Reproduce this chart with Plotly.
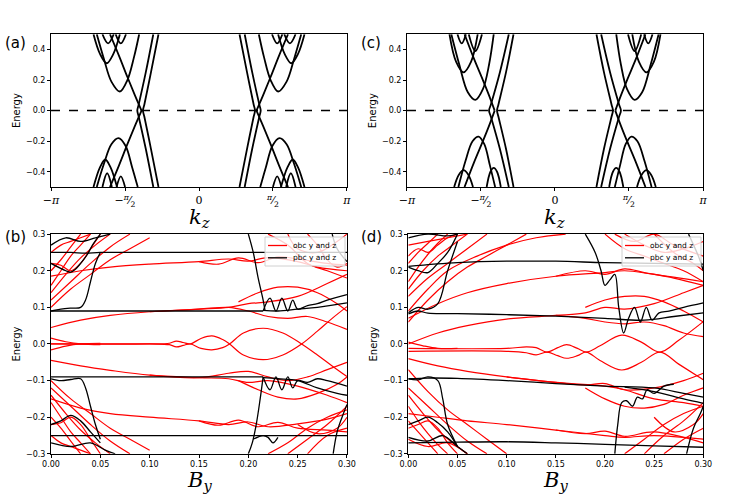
import numpy as np
import plotly.graph_objects as go
from plotly.subplots import make_subplots

PI = np.pi

# ---------------- top panels: bands vs k_z (left Weyl group, right group is its mirror)
# each entry: (kz list, energy list)
a_left = [
    ([-0.86, -1.02, -1.16, -1.19, -1.16, -1.02, -0.86], [0.5, 0.25, 0.04, 0.0, -0.04, -0.25, -0.5]),
    ([-0.97, -1.13, -1.28, -1.31, -1.28, -1.13, -0.97], [0.5, 0.25, 0.04, 0.0, -0.04, -0.25, -0.5]),
    ([-1.22, -1.36, -1.52, -1.70, -1.89], [0.0, 0.10, 0.22, 0.36, 0.5]),
    ([-1.22, -1.36, -1.52, -1.70, -1.89], [0.0, -0.10, -0.22, -0.36, -0.5]),
    ([-2.17, -2.02, -1.86, -1.68, -1.52, -1.38, -1.27], [0.5, 0.34, 0.19, 0.125, 0.2, 0.35, 0.5]),
    ([-2.24, -2.10, -1.96, -1.82, -1.68], [0.5, 0.37, 0.31, 0.37, 0.5]),
    ([-2.05, -1.93, -1.81], [0.5, 0.44, 0.5]),
    ([-1.77, -1.66, -1.55], [0.5, 0.44, 0.5]),
    ([-2.17, -2.02, -1.86, -1.71, -1.56, -1.42, -1.30], [-0.5, -0.35, -0.22, -0.18, -0.23, -0.37, -0.5]),
    ([-2.24, -2.10, -1.99, -1.88, -1.74], [-0.5, -0.37, -0.32, -0.37, -0.5]),
    ([-2.05, -1.95, -1.85], [-0.5, -0.41, -0.5]),
    ([-1.75, -1.66, -1.57], [-0.5, -0.43, -0.5]),
]

c_left = [
    ([-0.88, -1.04, -1.20, -1.23, -1.20, -1.04, -0.88], [0.5, 0.25, 0.04, 0.0, -0.04, -0.25, -0.5]),
    ([-0.98, -1.17, -1.36, -1.40, -1.36, -1.17, -0.98], [0.5, 0.25, 0.04, 0.0, -0.04, -0.25, -0.5]),
    ([-1.28, -1.40, -1.53, -1.72, -1.92], [0.0, 0.10, 0.20, 0.34, 0.5]),
    ([-1.28, -1.40, -1.53, -1.72, -1.92], [0.0, -0.10, -0.20, -0.34, -0.5]),
    ([-2.20, -2.03, -1.85, -1.69, -1.53, -1.40, -1.30], [0.5, 0.30, 0.12, 0.07, 0.14, 0.30, 0.5]),
    ([-2.24, -2.10, -1.94, -1.78, -1.64], [0.5, 0.32, 0.25, 0.32, 0.5]),
    ([-1.83, -1.69, -1.55], [0.5, 0.39, 0.5]),
    ([-2.07, -1.98, -1.89], [0.5, 0.44, 0.5]),
    ([-2.05, -1.90, -1.75, -1.62, -1.50, -1.38, -1.27], [-0.5, -0.33, -0.20, -0.17, -0.22, -0.36, -0.5]),
    ([-2.14, -2.04, -1.94, -1.84, -1.74], [-0.5, -0.42, -0.39, -0.42, -0.5]),
    ([-1.45, -1.37, -1.30, -1.23, -1.15], [-0.5, -0.40, -0.375, -0.40, -0.5]),
]

kz_ticks = [-PI, -PI / 2, 0, PI / 2, PI]
kz_ticktext = ["−<i>π</i>", "−<sup><i>π</i></sup>⁄<sub>2</sub>", "0", "<sup><i>π</i></sup>⁄<sub>2</sub>", "<i>π</i>"]

# ---------------- bottom panels: energy vs B_y  (By list, energy list)
b_red = [
    # zero-energy pair
    ([0, 0.1, 0.12, 0.127, 0.134, 0.141, 0.152, 0.163, 0.174, 0.181, 0.195, 0.215, 0.235, 0.254, 0.27, 0.285, 0.3],
     [0, 0, 0.002, 0.008, 0.004, 0, 0.015, 0.022, 0.012, 0, -0.03, -0.043, -0.03, 0, 0.035, 0.07, 0.102]),
    ([0, 0.1, 0.12, 0.127, 0.134, 0.141, 0.152, 0.163, 0.174, 0.181, 0.195, 0.215, 0.235, 0.254, 0.27, 0.285, 0.3],
     [0, 0, -0.002, -0.008, -0.004, 0, -0.012, -0.016, -0.01, 0, 0.03, 0.043, 0.03, 0, -0.03, -0.06, -0.089]),
    ([0, 0.015, 0.03, 0.05], [0.016, 0.006, 0.0, -0.002]),
    ([0, 0.015, 0.03, 0.05], [-0.016, -0.006, 0.0, 0.002]),
    # +0.09 band
    ([0, 0.03, 0.06, 0.1, 0.15, 0.18, 0.2, 0.22, 0.25, 0.28, 0.3],
     [0.045, 0.065, 0.078, 0.088, 0.095, 0.1, 0.11, 0.115, 0.13, 0.165, 0.19]),
    ([0.1, 0.15, 0.18, 0.2, 0.22, 0.24, 0.26, 0.28, 0.3],
     [0.088, 0.095, 0.1, 0.09, 0.075, 0.07, 0.075, 0.06, 0.04]),
    # +0.22 band
    ([0, 0.03, 0.06, 0.1, 0.15, 0.18, 0.2, 0.22, 0.25, 0.27, 0.3],
     [0.185, 0.2, 0.21, 0.218, 0.225, 0.232, 0.226, 0.236, 0.225, 0.21, 0.2]),
    ([0.15, 0.17, 0.19, 0.21, 0.23, 0.25, 0.28, 0.3],
     [0.225, 0.218, 0.235, 0.222, 0.238, 0.232, 0.22, 0.215]),
    # -0.09 band
    ([0, 0.03, 0.06, 0.1, 0.15, 0.18, 0.2, 0.22, 0.25, 0.28, 0.3],
     [-0.045, -0.06, -0.072, -0.085, -0.092, -0.095, -0.105, -0.1, -0.115, -0.14, -0.16]),
    ([0.1, 0.15, 0.18, 0.2, 0.22, 0.24, 0.26, 0.28, 0.3],
     [-0.085, -0.092, -0.08, -0.075, -0.09, -0.1, -0.09, -0.07, -0.05]),
    # -0.21 band
    ([0, 0.03, 0.06, 0.1, 0.15, 0.18, 0.2, 0.22, 0.25, 0.28, 0.3],
     [-0.15, -0.175, -0.19, -0.2, -0.21, -0.22, -0.213, -0.226, -0.218, -0.205, -0.19]),
    ([0.15, 0.17, 0.19, 0.21, 0.23, 0.25, 0.28, 0.3],
     [-0.21, -0.222, -0.208, -0.226, -0.214, -0.23, -0.235, -0.24]),
    # arches on the right
    ([0.19, 0.21, 0.23, 0.25, 0.27, 0.29, 0.3], [0.115, 0.14, 0.155, 0.155, 0.14, 0.11, 0.09]),
    ([0.19, 0.21, 0.23, 0.25, 0.27, 0.29, 0.3], [-0.1, -0.125, -0.145, -0.15, -0.135, -0.11, -0.09]),
    # upper-left bundle
    ([0, 0.02, 0.04, 0.06, 0.08], [0.12, 0.17, 0.22, 0.265, 0.3]),
    ([0, 0.015, 0.03, 0.045, 0.06], [0.14, 0.19, 0.235, 0.27, 0.3]),
    ([0, 0.01, 0.02, 0.03, 0.04], [0.16, 0.2, 0.24, 0.27, 0.3]),
    ([0, 0.01, 0.02, 0.03], [0.2, 0.23, 0.265, 0.3]),
    ([0, 0.02, 0.04, 0.06, 0.08, 0.1], [0.1, 0.15, 0.19, 0.23, 0.26, 0.29]),
    ([0, 0.01, 0.02, 0.03, 0.04, 0.05], [0.22, 0.215, 0.2, 0.22, 0.26, 0.3]),
    ([0, 0.01, 0.02, 0.03, 0.04], [0.25, 0.27, 0.28, 0.29, 0.3]),
    # lower-left bundle
    ([0, 0.02, 0.04, 0.06, 0.08], [-0.12, -0.17, -0.22, -0.265, -0.3]),
    ([0, 0.015, 0.03, 0.045, 0.06], [-0.14, -0.19, -0.235, -0.27, -0.3]),
    ([0, 0.01, 0.02, 0.03, 0.04], [-0.16, -0.2, -0.24, -0.27, -0.3]),
    ([0, 0.01, 0.02, 0.03], [-0.2, -0.23, -0.265, -0.3]),
    ([0, 0.02, 0.04, 0.06, 0.08, 0.1], [-0.1, -0.15, -0.19, -0.23, -0.26, -0.29]),
    ([0, 0.01, 0.02, 0.03, 0.04, 0.05], [-0.22, -0.215, -0.2, -0.22, -0.26, -0.3]),
    ([0, 0.01, 0.02, 0.03, 0.04], [-0.25, -0.27, -0.28, -0.29, -0.3]),
    # right bundles
    ([0.22, 0.24, 0.26, 0.28, 0.3], [0.3, 0.27, 0.22, 0.2, 0.18]),
    ([0.24, 0.25, 0.27, 0.29, 0.3], [0.3, 0.26, 0.25, 0.28, 0.3]),
    ([0.26, 0.27, 0.28, 0.29, 0.3], [0.3, 0.27, 0.23, 0.21, 0.22]),
    ([0.22, 0.24, 0.26, 0.28, 0.3], [-0.3, -0.27, -0.23, -0.2, -0.18]),
    ([0.24, 0.26, 0.28, 0.3], [-0.3, -0.26, -0.22, -0.17]),
    ([0.25, 0.27, 0.29, 0.3], [-0.22, -0.245, -0.23, -0.2]),
    ([0.26, 0.28, 0.3], [-0.3, -0.25, -0.23]),
]

b_black = [
    ([0, 0.02, 0.035, 0.05, 0.1, 0.2, 0.3], [0.25, 0.25, 0.248, 0.25, 0.25, 0.25, 0.25]),
    ([0, 0.015, 0.02, 0.025, 0.03, 0.037, 0.042, 0.05], [0.22, 0.2, 0.196, 0.205, 0.22, 0.245, 0.27, 0.3]),
    ([0, 0.01, 0.02, 0.03, 0.035, 0.04, 0.045, 0.05], [0.09, 0.095, 0.098, 0.1, 0.12, 0.17, 0.22, 0.25]),
    ([0, 0.015, 0.03, 0.045, 0.06], [0.27, 0.29, 0.28, 0.29, 0.3]),
    ([0, 0.05, 0.1, 0.15, 0.2, 0.215], [0.09, 0.09, 0.09, 0.09, 0.09, 0.09]),
    ([0.215, 0.222, 0.228, 0.234, 0.24, 0.245, 0.25, 0.26, 0.27, 0.28, 0.3],
     [0.09, 0.125, 0.09, 0.125, 0.09, 0.12, 0.095, 0.105, 0.11, 0.12, 0.135]),
    ([0.215, 0.23, 0.25, 0.27, 0.3], [0.092, 0.09, 0.095, 0.1, 0.112]),
    ([0.2, 0.205, 0.21, 0.215, 0.217], [0.3, 0.25, 0.18, 0.12, 0.09]),
    ([0.285, 0.29, 0.3], [0.3, 0.26, 0.225]),
    ([0, 0.05, 0.1, 0.15, 0.2, 0.215], [-0.09, -0.09, -0.09, -0.09, -0.09, -0.09]),
    ([0, 0.01, 0.02, 0.03, 0.035, 0.04, 0.045, 0.05], [-0.095, -0.1, -0.097, -0.095, -0.12, -0.17, -0.22, -0.26]),
    ([0.215, 0.222, 0.228, 0.234, 0.24, 0.245, 0.25, 0.26, 0.27, 0.28, 0.3],
     [-0.09, -0.125, -0.09, -0.125, -0.09, -0.12, -0.1, -0.105, -0.095, -0.1, -0.115]),
    ([0.215, 0.23, 0.25, 0.27, 0.29, 0.3], [-0.092, -0.095, -0.1, -0.12, -0.135, -0.14]),
    ([0.215, 0.212, 0.208, 0.204, 0.2], [-0.09, -0.15, -0.22, -0.27, -0.3]),
    ([0, 0.05, 0.1, 0.2, 0.3], [-0.25, -0.25, -0.25, -0.25, -0.25]),
    ([0, 0.01, 0.02, 0.03, 0.04, 0.05], [-0.22, -0.21, -0.195, -0.21, -0.24, -0.27]),
    ([0, 0.02, 0.04, 0.055, 0.065], [-0.27, -0.28, -0.27, -0.29, -0.3]),
    ([0.205, 0.215, 0.22, 0.225, 0.23], [-0.26, -0.25, -0.255, -0.27, -0.255]),
    ([0.286, 0.29, 0.295, 0.3], [-0.3, -0.24, -0.2, -0.165]),
]

d_red = [
    # zero-energy pair
    ([0, 0.1, 0.12, 0.13, 0.141, 0.152, 0.161, 0.172, 0.181, 0.195, 0.217, 0.237, 0.256, 0.275, 0.3],
     [-0.012, -0.012, -0.008, -0.01, -0.022, -0.01, -0.002, -0.012, -0.022, -0.005, 0.024, 0.005, -0.022, 0.01, 0.061]),
    ([0, 0.1, 0.12, 0.13, 0.141, 0.152, 0.161, 0.172, 0.181, 0.195, 0.217, 0.237, 0.256, 0.275, 0.3],
     [-0.02, -0.02, -0.024, -0.03, -0.022, -0.032, -0.039, -0.032, -0.022, -0.045, -0.071, -0.05, -0.022, -0.055, -0.098]),
    ([0, 0.015, 0.03, 0.05], [0.005, -0.005, -0.012, -0.012]),
    # +0.08 band
    ([0, 0.03, 0.06, 0.1, 0.15, 0.18, 0.2, 0.22, 0.25, 0.28, 0.3],
     [0.0, 0.03, 0.05, 0.068, 0.078, 0.085, 0.1, 0.095, 0.11, 0.14, 0.16]),
    ([0.15, 0.18, 0.2, 0.22, 0.24, 0.26, 0.28, 0.3], [0.078, 0.07, 0.06, 0.055, 0.06, 0.05, 0.03, 0.02]),
    # +0.19 band
    ([0, 0.03, 0.06, 0.1, 0.15, 0.2, 0.22, 0.25, 0.3], [0.07, 0.11, 0.14, 0.165, 0.185, 0.195, 0.2, 0.19, 0.17]),
    ([0.15, 0.18, 0.2, 0.22, 0.24, 0.27, 0.3], [0.185, 0.2, 0.19, 0.205, 0.195, 0.18, 0.16]),
    ([0.18, 0.2, 0.22, 0.24, 0.26, 0.28, 0.3], [0.1, 0.12, 0.13, 0.13, 0.115, 0.09, 0.06]),
    # -0.1 band
    ([0, 0.03, 0.06, 0.1, 0.15, 0.2, 0.22, 0.25, 0.28, 0.3],
     [-0.04, -0.06, -0.075, -0.09, -0.105, -0.115, -0.125, -0.15, -0.16, -0.17]),
    ([0.1, 0.15, 0.18, 0.2, 0.22, 0.25, 0.28, 0.3], [-0.09, -0.105, -0.112, -0.108, -0.125, -0.12, -0.1, -0.08]),
    ([0.18, 0.2, 0.22, 0.24, 0.26, 0.28, 0.3], [-0.12, -0.15, -0.17, -0.175, -0.165, -0.14, -0.12]),
    # -0.24 band
    ([0, 0.03, 0.06, 0.1, 0.15, 0.2, 0.22, 0.25, 0.3], [-0.19, -0.2, -0.21, -0.22, -0.235, -0.25, -0.255, -0.25, -0.26]),
    ([0.15, 0.18, 0.2, 0.22, 0.25, 0.3], [-0.235, -0.245, -0.238, -0.252, -0.24, -0.27]),
    # upper-left bundle
    ([0, 0.02, 0.04, 0.06, 0.08], [0.13, 0.18, 0.22, 0.26, 0.3]),
    ([0, 0.015, 0.03, 0.045, 0.06], [0.15, 0.2, 0.24, 0.27, 0.3]),
    ([0, 0.01, 0.02, 0.03, 0.04], [0.17, 0.21, 0.245, 0.275, 0.3]),
    ([0, 0.01, 0.02, 0.03], [0.22, 0.25, 0.275, 0.3]),
    ([0, 0.02, 0.04, 0.06, 0.08, 0.1, 0.12], [0.06, 0.12, 0.17, 0.21, 0.24, 0.27, 0.3]),
    ([0, 0.02, 0.04, 0.07, 0.1, 0.13, 0.16], [0.09, 0.15, 0.2, 0.24, 0.27, 0.29, 0.3]),
    ([0, 0.01, 0.02, 0.03, 0.04, 0.05], [0.24, 0.26, 0.25, 0.27, 0.29, 0.3]),
    ([0, 0.02, 0.04, 0.06], [0.27, 0.28, 0.29, 0.3]),
    # lower-left bundle
    ([0, 0.02, 0.04, 0.06, 0.08], [-0.12, -0.17, -0.22, -0.265, -0.3]),
    ([0, 0.015, 0.03, 0.045, 0.06], [-0.14, -0.19, -0.235, -0.27, -0.3]),
    ([0, 0.01, 0.02, 0.03, 0.04], [-0.17, -0.21, -0.245, -0.275, -0.3]),
    ([0, 0.01, 0.02, 0.03], [-0.21, -0.24, -0.27, -0.3]),
    ([0, 0.02, 0.04, 0.06, 0.08, 0.1], [-0.07, -0.13, -0.18, -0.22, -0.26, -0.3]),
    ([0, 0.01, 0.02, 0.03, 0.04, 0.05], [-0.23, -0.22, -0.21, -0.23, -0.27, -0.3]),
    ([0, 0.02, 0.04, 0.06], [-0.26, -0.28, -0.27, -0.3]),
    # right bundles
    ([0.2, 0.22, 0.24, 0.26, 0.28, 0.3], [0.3, 0.26, 0.24, 0.22, 0.2, 0.17]),
    ([0.22, 0.24, 0.26, 0.28, 0.3], [0.3, 0.27, 0.25, 0.26, 0.28]),
    ([0.25, 0.27, 0.29, 0.3], [0.3, 0.25, 0.22, 0.2]),
    ([0.21, 0.23, 0.25, 0.27, 0.3], [0.3, 0.28, 0.3, 0.27, 0.24]),
    ([0.22, 0.24, 0.26, 0.28, 0.3], [-0.3, -0.26, -0.22, -0.19, -0.17]),
    ([0.24, 0.26, 0.28, 0.3], [-0.3, -0.25, -0.21, -0.16]),
    ([0.25, 0.27, 0.29, 0.3], [-0.2, -0.24, -0.22, -0.19]),
    ([0.26, 0.28, 0.3], [-0.3, -0.26, -0.23]),
]

d_black = [
    ([0, 0.05, 0.1, 0.15, 0.2, 0.25, 0.3], [0.212, 0.222, 0.226, 0.226, 0.222, 0.22, 0.218]),
    ([0, 0.01, 0.02, 0.03, 0.04, 0.05], [0.21, 0.2, 0.195, 0.22, 0.25, 0.3]),
    ([0, 0.02, 0.04, 0.05], [0.29, 0.3, 0.295, 0.3]),
    ([0, 0.01, 0.02, 0.03, 0.04, 0.05], [0.085, 0.1, 0.095, 0.11, 0.2, 0.28]),
    ([0.18, 0.19, 0.196, 0.2, 0.205, 0.21, 0.214, 0.219, 0.224, 0.23, 0.236, 0.242, 0.248, 0.255, 0.265, 0.28, 0.3],
     [0.3, 0.25, 0.2, 0.16, 0.175, 0.19, 0.1, 0.03, 0.07, 0.1, 0.06, 0.1, 0.065, 0.085, 0.09, 0.1, 0.112]),
    ([0, 0.01, 0.02, 0.05, 0.1, 0.15, 0.2, 0.24, 0.27, 0.3], [0.082, 0.09, 0.084, 0.083, 0.08, 0.076, 0.07, 0.065, 0.075, 0.085]),
    ([0.285, 0.295, 0.3], [0.3, 0.24, 0.2]),
    ([0, 0.02, 0.05, 0.1, 0.15, 0.2, 0.25, 0.28, 0.3], [-0.095, -0.093, -0.094, -0.1, -0.108, -0.115, -0.12, -0.135, -0.145]),
    ([0.22, 0.25, 0.28, 0.3], [-0.118, -0.13, -0.15, -0.162]),
    ([0, 0.01, 0.02, 0.03, 0.035, 0.04, 0.05], [-0.095, -0.098, -0.09, -0.1, -0.15, -0.22, -0.28]),
    ([0.21, 0.213, 0.217, 0.222, 0.228, 0.233, 0.238, 0.243, 0.25, 0.26, 0.27],
     [-0.3, -0.22, -0.16, -0.155, -0.17, -0.145, -0.15, -0.125, -0.135, -0.115, -0.11]),
    ([0, 0.05, 0.1, 0.15, 0.2, 0.25, 0.3], [-0.27, -0.268, -0.267, -0.27, -0.274, -0.278, -0.282]),
    ([0, 0.01, 0.02, 0.03, 0.04, 0.05], [-0.22, -0.21, -0.2, -0.215, -0.24, -0.28]),
    ([0, 0.02, 0.035, 0.05, 0.06], [-0.255, -0.265, -0.25, -0.28, -0.3]),
    ([0.283, 0.29, 0.297, 0.3], [-0.3, -0.23, -0.19, -0.17]),
]

fig = make_subplots(rows=2, cols=2)


def add_bands(groups, col):
    for kz, en in groups:
        for xs in (kz, [-k for k in kz]):  # the right group is the mirror image
            fig.add_trace(go.Scatter(x=xs, y=en, mode="lines", line=dict(color="black", width=1.8, shape="spline"),
                                     showlegend=False, hoverinfo="skip"), row=1, col=col)
    fig.add_trace(go.Scatter(x=[-PI, PI], y=[0, 0], mode="lines", line=dict(color="black", width=1.5, dash="dash"),
                             showlegend=False, hoverinfo="skip"), row=1, col=col)


def add_field(reds, blacks, col):
    for b, en in reds:
        fig.add_trace(go.Scatter(x=b, y=en, mode="lines", line=dict(color="red", width=1.2, shape="spline"),
                                 name="obc y and z", showlegend=False, hoverinfo="skip"), row=2, col=col)
    for b, en in blacks:
        fig.add_trace(go.Scatter(x=b, y=en, mode="lines", line=dict(color="black", width=1.3, shape="spline"),
                                 name="pbc y and z", showlegend=False, hoverinfo="skip"), row=2, col=col)


add_bands(a_left, 1)
add_bands(c_left, 2)
add_field(b_red, b_black, 1)
add_field(d_red, d_black, 2)

tick_font = dict(family="DejaVu Sans", size=8, color="black")
axis_common = dict(showline=True, mirror=True, linecolor="black", linewidth=1, ticks="outside", automargin=False,
                   ticklen=3, tickcolor="black", showgrid=False, zeroline=False)
energy_title = dict(text="Energy", font=dict(family="DejaVu Sans", size=10, color="black"), standoff=3)

top_x = {1: [0.0683, 0.4645], 2: [0.5448, 0.9411]}
bot_x = {1: [0.0683, 0.4645], 2: [0.5466, 0.9415]}

for col in (1, 2):
    fig.update_xaxes(row=1, col=col, range=[-PI, PI], tickvals=kz_ticks, ticktext=kz_ticktext,
                     tickfont=dict(family="DejaVu Serif", size=11, color="black"),
                     domain=top_x[col], **axis_common)
    fig.update_yaxes(row=1, col=col, range=[-0.5, 0.5], tickvals=[-0.4, -0.2, 0, 0.2, 0.4], tickformat=".1f",
                     tickfont=tick_font, title=energy_title, domain=[0.623, 0.931], **axis_common)
    fig.update_xaxes(row=2, col=col, range=[0, 0.3], tickvals=[0, 0.05, 0.1, 0.15, 0.2, 0.25, 0.3], tickformat=".2f",
                     tickfont=tick_font, domain=bot_x[col], **axis_common)
    fig.update_yaxes(row=2, col=col, range=[-0.3, 0.3], tickvals=[-0.3, -0.2, -0.1, 0, 0.1, 0.2, 0.3],
                     tickformat=".1f", tickfont=tick_font, title=energy_title, domain=[0.085, 0.528],
                     **axis_common)

W, H = 747, 496
big = dict(family="DejaVu Serif", size=21, color="black")
annots = []
# axis labels k_z and B_y
for x0, x1 in (top_x[1], top_x[2]):
    annots.append(dict(text="<i>k<sub>z</sub></i>", x=(x0 + x1) / 2, y=1 - 218 / H, xref="paper", yref="paper",
                       xanchor="center", yanchor="middle", showarrow=False, font=big))
for x0, x1 in (bot_x[1], bot_x[2]):
    annots.append(dict(text="<i>B<sub>y</sub></i>", x=(x0 + x1) / 2, y=1 - 481 / H, xref="paper", yref="paper",
                       xanchor="center", yanchor="middle", showarrow=False, font=big))
# panel letters
for t, px, py in (("(a)", 3, 43), ("(b)", 3, 237), ("(c)", 359, 43), ("(d)", 359, 237)):
    annots.append(dict(text=t, x=px / W, y=1 - py / H, xref="paper", yref="paper", xanchor="left",
                       yanchor="middle", showarrow=False, font=dict(family="DejaVu Sans", size=15, color="black")))

# legends drawn as in the original (small frame, short line samples)
shapes = []
legend_names = ["obc y and z", "pbc y and z"]
legend_colors = ["red", "black"]
for bx0, bx1 in ((265, 345), (622, 701)):
    shapes.append(dict(type="rect", xref="paper", yref="paper", x0=bx0 / W, x1=bx1 / W, y0=1 - 266 / H,
                       y1=1 - 237 / H, line=dict(color="#d0d0d0", width=1), fillcolor="rgba(255,255,255,0.8)",
                       layer="above"))
    for i, (name, colr) in enumerate(zip(legend_names, legend_colors)):
        py = 245.5 + i * 12.3
        shapes.append(dict(type="line", xref="paper", yref="paper", x0=(bx0 + 3) / W, x1=(bx0 + 22) / W,
                           y0=1 - py / H, y1=1 - py / H, line=dict(color=colr, width=1.3), layer="above"))
        annots.append(dict(text=name, x=(bx0 + 26) / W, y=1 - py / H, xref="paper", yref="paper",
                           xanchor="left", yanchor="middle", showarrow=False,
                           font=dict(family="DejaVu Sans", size=7.5, color="black")))

fig.update_layout(
    width=W, height=H,
    margin=dict(l=0, r=0, t=0, b=0),
    paper_bgcolor="white", plot_bgcolor="white",
    showlegend=False,
    annotations=annots,
    shapes=shapes,
)

# the page's default 8px body margin would shift the figure
fig.write_html("out.html", config={"displayModeBar": False},
               post_script="document.body.style.margin = '0px';")
